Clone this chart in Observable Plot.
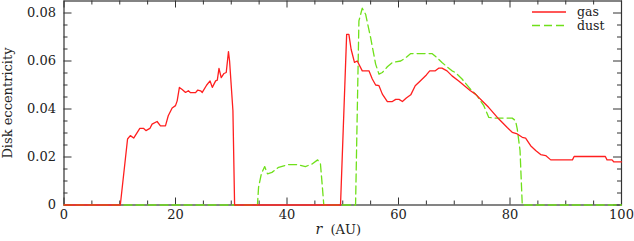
<!DOCTYPE html>
<html><head><meta charset="utf-8">
<script src="https://cdn.jsdelivr.net/npm/d3@7"></script>
<script src="https://cdn.jsdelivr.net/npm/@observablehq/plot@0.6"></script>
<style>body{margin:0;background:#fff}</style>
</head><body><div id="chart"></div>
<script>
const gasR = [0,10.1,11.4,11.9,12.5,13.6,14.3,14.7,15.4,15.8,16.7,17.3,18.2,18.7,19.4,20.0,20.3,20.7,21.2,21.8,22.3,22.7,23.6,24.0,24.5,24.8,25.6,26.2,26.6,27.2,27.5,27.8,28.2,28.7,29.1,29.5,29.7,30.3,30.6,49.6,50.7,51.1,51.5,52.1,52.6,53.5,54.7,55.3,55.9,56.5,57.1,58.0,58.9,59.5,60.1,60.7,61.4,62.2,63.0,63.9,65.0,65.6,66.6,67.2,67.8,68.7,69.6,70.8,72.9,73.8,75.3,76.2,78.0,79.5,80.4,81.3,82.2,82.8,83.7,84.6,85.5,86.4,87.3,91.2,91.5,97.1,97.4,98.3,98.6,100];
const gasE = [0,0,.0275,.0289,.0279,.0319,.0319,.031,.0319,.0337,.0348,.033,.033,.0372,.0404,.0414,.0434,.049,.0481,.0469,.0476,.0468,.0468,.0479,.0476,.0469,.05,.0517,.049,.0517,.052,.0569,.0531,.0548,.0552,.0639,.06,.0393,0,0,.0711,.0711,.0649,.0594,.06,.0559,.0559,.0525,.05,.0497,.0462,.0431,.0431,.044,.044,.0431,.0446,.0459,.0497,.0517,.0542,.0559,.0559,.057,.057,.0559,.0538,.0517,.0476,.0462,.0427,.0406,.0358,.0323,.0303,.0296,.0282,.0279,.0247,.0227,.021,.0206,.0188,.0188,.0202,.0202,.0188,.0188,.018,.018];
const dustR = [0,34.7,34.9,35.4,36.0,36.5,37.3,38.5,40.3,41.8,43.3,44.5,45.5,46.0,46.3,46.6,52.3,52.9,53.5,54.1,55.0,55.9,56.5,57.1,58.0,58.9,60.4,61.3,62.2,66.0,66.9,67.8,68.7,69.6,70.2,71.4,72.9,74.1,75.3,76.2,77.1,80.4,81.0,81.3,81.8,82.2,100];
const dustE = [0,0,.0074,.013,.016,.013,.0136,.0157,.0168,.0168,.016,.0171,.0188,.0171,.0088,0,0,.0767,.082,.0795,.0697,.0587,.0545,.0552,.0576,.0594,.06,.0614,.0631,.0631,.0614,.0594,.0576,.0559,.0552,.0525,.0483,.0455,.0414,.0365,.0362,.0362,.0351,.0317,.0227,0,0];
const seriesNames = ["gas", "dust"];
const xMajor = [0,20,40,60,80,100];
const xMinor = [5,10,15,25,30,35,45,50,55,65,70,75,85,90,95];
const yMajor = [0,0.02,0.04,0.06,0.08];
const yMinor = [0.005,0.01,0.015,0.025,0.03,0.035,0.045,0.05,0.055,0.065,0.07,0.075];
const yTickLabels = ["0","0.02","0.04","0.06","0.08"];
const xLabelItalic = "r";
const xLabelRest = "(AU)";
const yLabel = "Disk eccentricity";

const gas = gasR.map((r,i)=>({r, e: gasE[i]}));
const dust = dustR.map((r,i)=>({r, e: dustE[i]}));

const W = 634, H = 241;
const mL = 63.5, mR = 13, mT = 0.5, mB = 36.5;
const pw = W - mL - mR, ph = H - mT - mB;
const gasColor = "#ff1f1f", dustColor = "#6fe01a";
const frameColor = "#333";

const chart = Plot.plot({
  width: W, height: H,
  marginLeft: mL, marginRight: mR, marginTop: mT, marginBottom: mB,
  style: {fontFamily: "'DejaVu Serif', serif", fontSize: "13px", color: "#222", background: "#fff"},
  x: {domain: [0, 100], axis: null},
  y: {domain: [0, 0.085], axis: null},
  marks: [
    // tick labels
    Plot.axisX({ticks: xMajor, tickSize: 0, tickPadding: 5, label: null, fontSize: 13}),
    Plot.axisY({ticks: yMajor, tickSize: 0, tickPadding: 8, label: null, fontSize: 13,
      tickFormat: (d) => yTickLabels[yMajor.indexOf(d)]}),
    // inward ticks, bottom & top
    Plot.tickX(xMajor, {x: d=>d, insetTop: ph - 7, stroke: frameColor}),
    Plot.tickX(xMajor, {x: d=>d, insetBottom: ph - 7, stroke: frameColor}),
    Plot.tickX(xMinor, {x: d=>d, insetTop: ph - 4, stroke: frameColor}),
    Plot.tickX(xMinor, {x: d=>d, insetBottom: ph - 4, stroke: frameColor}),
    Plot.tickY(yMajor, {y: d=>d, insetRight: pw - 8, stroke: frameColor}),
    Plot.tickY(yMajor, {y: d=>d, insetLeft: pw - 8, stroke: frameColor}),
    Plot.tickY(yMinor, {y: d=>d, insetRight: pw - 4, stroke: frameColor}),
    Plot.tickY(yMinor, {y: d=>d, insetLeft: pw - 4, stroke: frameColor}),
    Plot.frame({stroke: frameColor, strokeWidth: 1.2}),
    // data
    Plot.line(dust, {x: "r", y: "e", stroke: dustColor, strokeWidth: 1.3, strokeDasharray: "8,4"}),
    Plot.line(gas, {x: "r", y: "e", stroke: gasColor, strokeWidth: 1.3}),
    // axis titles
    Plot.text([xLabelItalic], {text: d=>d, frameAnchor: "bottom", dy: 29, dx: -24, fontStyle: "italic", fontSize: 14}),
    Plot.text([xLabelRest], {text: d=>d, frameAnchor: "bottom", dy: 29, dx: 3, fontSize: 13}),
    Plot.text([yLabel], {text: d=>d, frameAnchor: "left", textAnchor: "middle", rotate: -90, dx: -56, fontSize: 13})
  ]
});

// legend (top-right, inside the frame)
const svg = d3.select(chart);
const lg = svg.append("g").attr("font-family", "'DejaVu Serif', serif").attr("font-size", 12.5)
  .attr("fill", "#222").attr("text-anchor", "start");
const colors = [gasColor, dustColor];
const dashes = [null, "8,4"];
seriesNames.forEach((name, i) => {
  const yy = 12 + i * 13.5;
  lg.append("line").attr("x1", W - mR - 89).attr("x2", W - mR - 55).attr("y1", yy).attr("y2", yy)
    .attr("stroke", colors[i]).attr("stroke-width", 1.3).attr("stroke-dasharray", dashes[i]);
  lg.append("text").attr("x", W - mR - 44).attr("y", yy).attr("dy", "0.32em").text(name);
});

document.getElementById("chart").appendChild(chart);
</script>
</body></html>
